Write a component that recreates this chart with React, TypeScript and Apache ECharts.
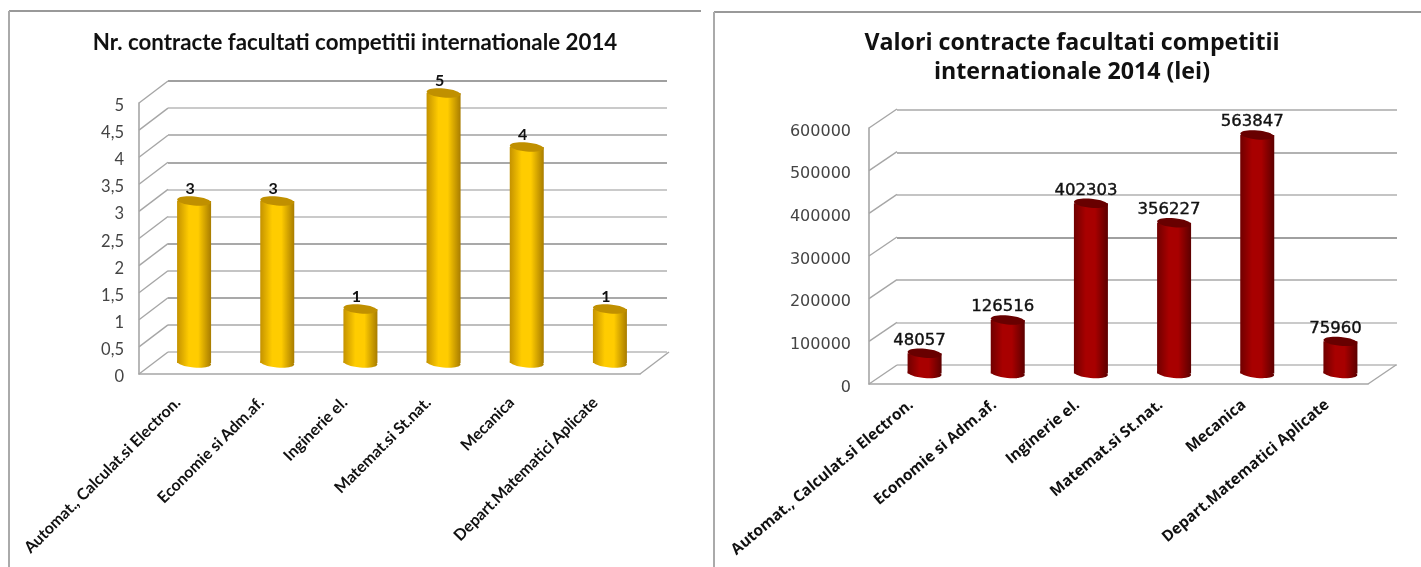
import React, { useEffect, useRef } from "react";
import * as echarts from "echarts";

const categories = [
  "Automat., Calculat.si Electron.",
  "Economie si Adm.af.",
  "Inginerie el.",
  "Matemat.si St.nat.",
  "Mecanica",
  "Depart.Matematici Aplicate",
];
const countValues = [3, 3, 1, 5, 4, 1];
const amountValues = [48057, 126516, 402303, 356227, 563847, 75960];
const countTicks = [0, 0.5, 1, 1.5, 2, 2.5, 3, 3.5, 4, 4.5, 5];
const amountTicks = [0, 100000, 200000, 300000, 400000, 500000, 600000];
const countTitle = "Nr. contracte facultati competitii internationale 2014";
const amountTitle = "Valori contracte facultati competitii\ninternationale 2014 (lei)";

const W = 1421;
const H = 567;

type Box = { l: number; r: number; t: number; b: number };
type Panel = {
  front: Box;
  labelBox: Box;
  back: Box;
  bars: Box;
  values: number[];
  ticks: number[];
  gridColors: string[];
  edgeL: string;
  edge: string;
  mid: string;
  cap: string;
  font: string;
  numFont: string;
  labelSize: number;
  labelMargin: number;
  valueSize: number;
  catSize: number;
  catMargin: number;
  rotate: number;
  labelDx: number;
  labelDy: number;
  fmt: (v: number) => string;
};

const rect = (b: Box) => ({ left: b.l, top: b.t, width: b.r - b.l, height: b.b - b.t });

const panels: Panel[] = [
  {
    front: { l: 139, r: 640, t: 103, b: 374 },
    labelBox: { l: 135, r: 636, t: 105, b: 376 },
    back: { l: 168, r: 667, t: 81, b: 352 },
    bars: { l: 152.5, r: 651.5, t: 93, b: 363 },
    values: countValues,
    ticks: countTicks,
    gridColors: ["#b8b8b8", "#a8a8a8", "#8c8c8c", "#b0b0b0", "#8c8c8c", "#b8b8b8", "#b8b8b8", "#8c8c8c", "#a0a0a0", "#b8b8b8", "#808080"],
    edgeL: "#c49200",
    edge: "#a87c00",
    mid: "#ffcc00",
    cap: "#c09000",
    font: "Lato",
    numFont: "Lato",
    labelSize: 16.5,
    labelMargin: 11,
    valueSize: 16,
    catSize: 16,
    catMargin: 23,
    rotate: 45,
    labelDx: -4,
    labelDy: -14,
    fmt: (v) => String(v).replace(".", ","),
  },
  {
    front: { l: 869, r: 1368, t: 128, b: 384 },
    labelBox: { l: 869, r: 1368, t: 130, b: 386 },
    back: { l: 897, r: 1397, t: 110, b: 365 },
    bars: { l: 883, r: 1382, t: 119.7, b: 373.5 },
    values: amountValues,
    ticks: amountTicks,
    gridColors: ["#b8b8b8", "#b8b8b8", "#a8a8a8", "#808080", "#b0b0b0", "#989898", "#a8a8a8"],
    edgeL: "#700000",
    edge: "#5c0000",
    mid: "#a80000",
    cap: "#680000",
    font: "Open Sans",
    numFont: "DejaVu Sans",
    labelSize: 16,
    labelMargin: 18,
    valueSize: 16.5,
    catSize: 15.4,
    catMargin: 16,
    rotate: 40,
    labelDx: -5,
    labelDy: -14,
    fmt: (v) => String(v),
  },
];

function buildOption() {
  const grid: any[] = [];
  const xAxis: any[] = [];
  const yAxis: any[] = [];
  const series: any[] = [];

  panels.forEach((p, i) => {
    const max = p.ticks[p.ticks.length - 1];
    const interval = p.ticks[1] - p.ticks[0];
    const base = i * 4;
    const dx = p.back.l - p.front.l;
    const dy = p.front.b - p.back.b;
    const axisColor = "#a6a6a6";

    // back wall
    grid.push(rect(p.back));
    xAxis.push({ type: "category", gridIndex: base, data: categories, axisLine: { show: false }, axisTick: { show: false }, axisLabel: { show: false } });
    yAxis.push({
      type: "value", gridIndex: base, min: 0, max, interval,
      axisLine: { show: false }, axisTick: { show: false }, axisLabel: { show: false },
      splitLine: { show: true, lineStyle: { color: p.gridColors, width: 1.6 } },
    });

    // front plane: axis lines
    grid.push(rect(p.front));
    xAxis.push({
      type: "category", gridIndex: base + 1, data: categories,
      axisLine: { show: true, lineStyle: { color: axisColor, width: 1.6 } },
      axisTick: { show: false }, axisLabel: { show: false },
    });
    yAxis.push({
      type: "value", gridIndex: base + 1, min: 0, max, interval,
      axisLine: { show: true, lineStyle: { color: axisColor, width: 1.6 } },
      axisTick: { show: false }, axisLabel: { show: false }, splitLine: { show: false },
    });

    // mid plane: cylinders
    grid.push(rect(p.bars));
    xAxis.push({ type: "category", gridIndex: base + 2, data: categories, show: false });
    yAxis.push({ type: "value", gridIndex: base + 2, min: 0, max, interval, show: false, splitLine: { show: false } });

    // label plane: tick and category labels
    grid.push(rect(p.labelBox));
    xAxis.push({
      type: "category", gridIndex: base + 3, data: categories,
      axisLine: { show: false }, axisTick: { show: false },
      axisLabel: {
        interval: 0, rotate: p.rotate, margin: p.catMargin, color: "#111",
        fontFamily: p.font, fontSize: p.catSize, fontWeight: 700,
      },
    });
    yAxis.push({
      type: "value", gridIndex: base + 3, min: 0, max, interval,
      axisLine: { show: false }, axisTick: { show: false }, splitLine: { show: false },
      axisLabel: {
        margin: p.labelMargin, color: "#444", fontFamily: p.numFont, fontSize: p.labelSize,
        formatter: (v: number) => p.fmt(v),
      },
    });

    // side wall and floor edges
    series.push({
      type: "custom", xAxisIndex: base + 1, yAxisIndex: base + 1, clip: false, silent: true, z: 3,
      data: p.ticks.map((t) => [categories[0], t]),
      renderItem: (params: any, api: any) => {
        const cs = params.coordSys;
        const v = api.value(1);
        const y = api.coord([0, v])[1];
        const children: any[] = [
          { type: "line", shape: { x1: cs.x, y1: y, x2: cs.x + dx, y2: y - dy }, style: { stroke: axisColor, lineWidth: 1.4 } },
        ];
        if (v === 0) {
          children.push({
            type: "line",
            shape: { x1: cs.x + cs.width, y1: y, x2: cs.x + cs.width + dx, y2: y - dy },
            style: { stroke: axisColor, lineWidth: 1.4 },
          });
        }
        return { type: "group", children };
      },
    });

    // cylinders
    series.push({
      type: "custom", xAxisIndex: base + 2, yAxisIndex: base + 2, clip: false, silent: true, z: 5,
      data: p.values.map((v, k) => [k, v]),
      encode: { x: 0, y: 1 },
      renderItem: (_: any, api: any) => {
        const top = api.coord([api.value(0), api.value(1)]);
        const bot = api.coord([api.value(0), 0]);
        const w = 34;
        const rx = w / 2;
        const ry = 4.5;
        const tilt = -0.09;
        const fill = {
          type: "linear", x: 0, y: 0, x2: 1, y2: 0,
          colorStops: [
            { offset: 0, color: p.edgeL },
            { offset: 0.35, color: p.mid },
            { offset: 0.62, color: p.mid },
            { offset: 1, color: p.edge },
          ],
        };
        return {
          type: "group",
          children: [
            { type: "ellipse", x: bot[0], y: bot[1], rotation: tilt, shape: { cx: 0, cy: 0, rx, ry }, style: { fill } },
            { type: "rect", shape: { x: top[0] - rx, y: top[1], width: w, height: bot[1] - top[1] }, style: { fill } },
            { type: "ellipse", x: top[0], y: top[1], rotation: tilt, shape: { cx: 0, cy: 0, rx, ry }, style: { fill: p.cap } },
            {
              type: "text", x: top[0] + p.labelDx, y: top[1] + p.labelDy,
              style: {
                text: String(api.value(1)), fill: "#111", fontFamily: p.numFont,
                fontSize: p.valueSize, fontWeight: i === 0 ? 700 : 400, align: "center", verticalAlign: "middle",
                stroke: i === 0 ? undefined : "#111", lineWidth: i === 0 ? 0 : 0.4,
              },
            },
          ],
        };
      },
    });
  });

  return {
    animation: false,
    backgroundColor: "#ffffff",
    title: [
      {
        text: countTitle, left: 350, top: 25, textAlign: "center",
        textStyle: { fontFamily: "Lato", fontSize: 22.3, fontWeight: 700, color: "#111" },
      },
      {
        text: amountTitle, left: 1067, top: 21.5, textAlign: "center",
        textStyle: { fontFamily: "Open Sans", fontSize: 23.2, fontWeight: 700, color: "#111", lineHeight: 29 },
      },
    ],
    grid,
    xAxis,
    yAxis,
    series,
    graphic: [
      { type: "line", shape: { x1: 9, y1: 11, x2: 701, y2: 11 }, style: { stroke: "#999", lineWidth: 2 } },
      { type: "line", shape: { x1: 9, y1: 11, x2: 9, y2: H }, style: { stroke: "#aaa", lineWidth: 2 } },
      { type: "line", shape: { x1: 714, y1: 12, x2: W, y2: 12 }, style: { stroke: "#999", lineWidth: 2 } },
      { type: "line", shape: { x1: 714, y1: 12, x2: 714, y2: H }, style: { stroke: "#aaa", lineWidth: 2 } },
    ],
  };
}

export default function App() {
  const ref = useRef<HTMLDivElement>(null);
  useEffect(() => {
    document.body.style.margin = "0";
    const chart = echarts.init(ref.current!, undefined, { renderer: "svg" });
    chart.setOption(buildOption() as any);
    return () => chart.dispose();
  }, []);
  return <div ref={ref} style={{ width: W, height: H, filter: "blur(0.6px)" }} />;
}
